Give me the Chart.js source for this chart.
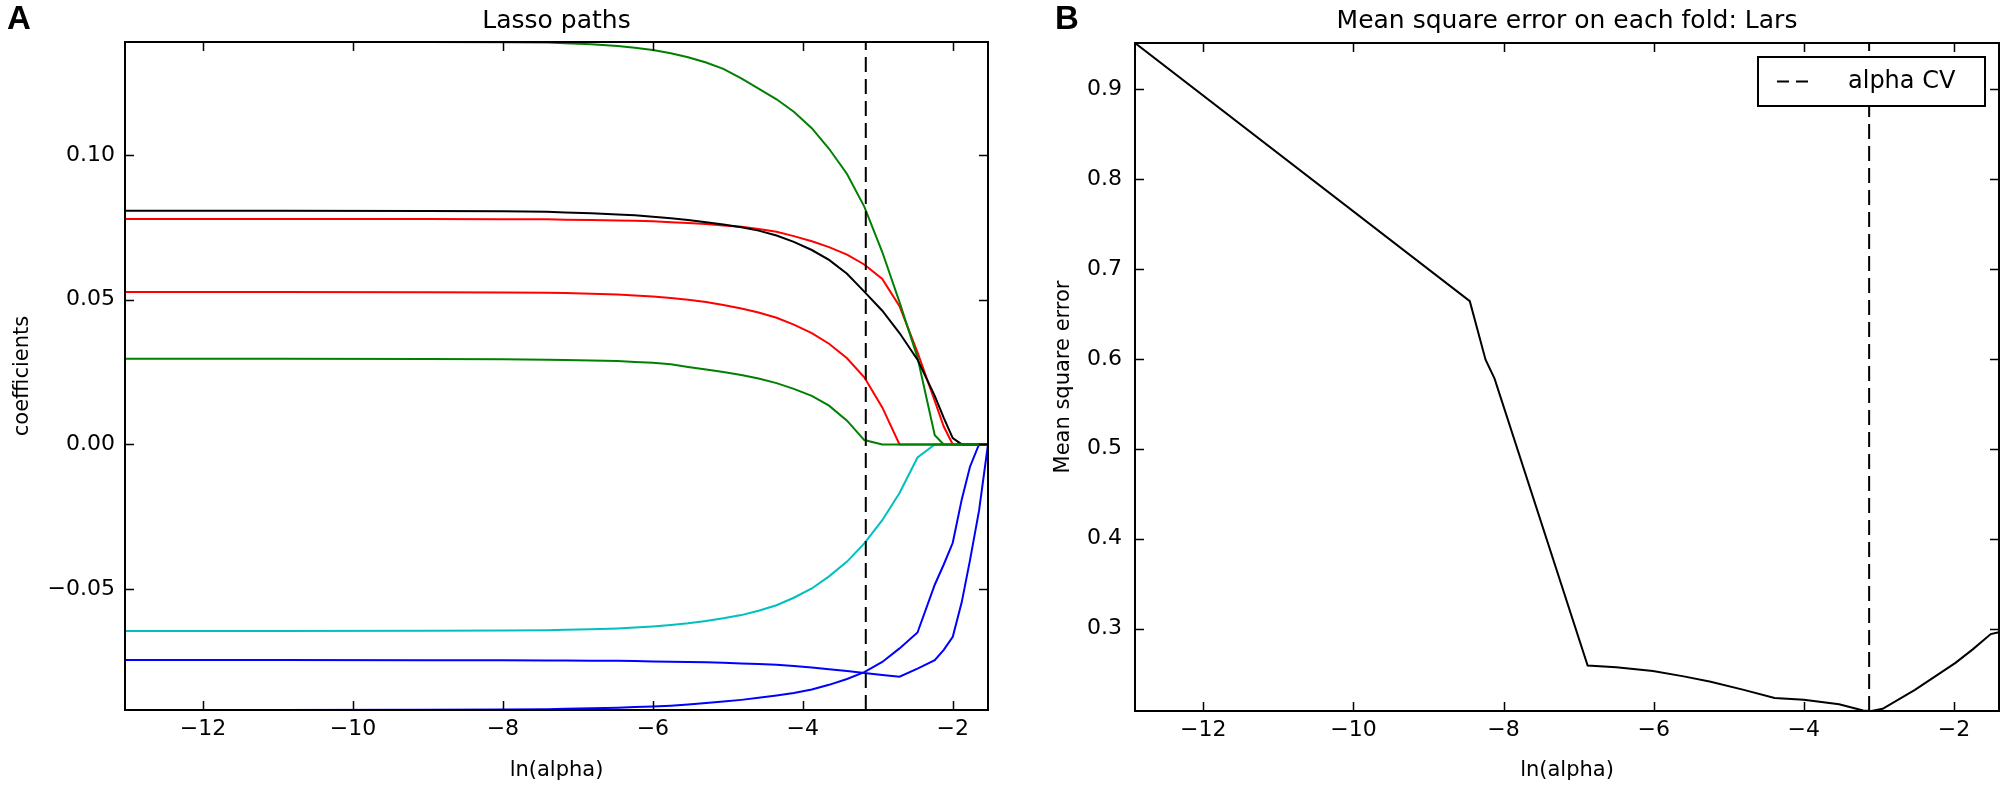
<!DOCTYPE html>
<html lang="en">
<head>
<meta charset="UTF-8">
<title>Lasso paths / Mean square error</title>
<style>
  html, body { margin: 0; padding: 0; background: #fff; }
  #wrap { position: relative; width: 2009px; height: 789px; overflow: hidden; }
  #wrap canvas { position: absolute; top: 0; }
  .tag { position: absolute; top: -1px; font: bold 33px "Liberation Sans", Arial, sans-serif; color: #000; }
</style>
</head>
<body>
<div id="wrap">
  <canvas id="lasso" width="1010" height="789" style="left:0"></canvas>
  <canvas id="mse" width="999" height="789" style="left:1010px"></canvas>
  <div class="tag" style="left:7px">A</div>
  <div class="tag" style="left:1055px">B</div>
</div>

<script src="https://cdn.jsdelivr.net/npm/chart.js"></script>
<script>
// ---- panel A: lasso paths ----
const lnAlpha = [-13.04, -11, -9, -8, -7.41, -7.17, -6.82, -6.47, -6.24, -6.0, -5.76, -5.53, -5.29, -5.06, -4.82, -4.59,
                 -4.35, -4.12, -3.88, -3.65, -3.41, -3.18, -2.94, -2.71, -2.47, -2.24, -2.12, -2.00, -1.88, -1.77, -1.65, -1.53];

const greenTop  = [0.1391, 0.1391, 0.1391, 0.1390, 0.1389, 0.1387, 0.1383, 0.1377, 0.1371, 0.1363, 0.1352, 0.1338, 0.1320, 0.1298, 0.1265, 0.1230,
                   0.1193, 0.1150, 0.1093, 0.1022, 0.0935, 0.0822, 0.0665, 0.0492, 0.0300, 0.0032, 0, 0, 0, 0, 0, 0];
const blackPath = [0.0808, 0.0808, 0.0807, 0.0806, 0.0804, 0.0802, 0.0799, 0.0795, 0.0792, 0.0787, 0.0782, 0.0776, 0.0768, 0.0760, 0.0751, 0.0739,
                   0.0722, 0.0700, 0.0672, 0.0638, 0.0590, 0.0528, 0.0462, 0.0385, 0.0293, 0.0168, 0.0092, 0.0022, 0, 0, 0, 0];
const redTop    = [0.0779, 0.0779, 0.0779, 0.0778, 0.0778, 0.0777, 0.0776, 0.0774, 0.0773, 0.0771, 0.0768, 0.0765, 0.0762, 0.0757, 0.0752, 0.0745,
                   0.0735, 0.0720, 0.0702, 0.0682, 0.0656, 0.0622, 0.0572, 0.0478, 0.0318, 0.0150, 0.0062, 0, 0, 0, 0, 0];
const redLow    = [0.0527, 0.0527, 0.0526, 0.0525, 0.0524, 0.0523, 0.0521, 0.0518, 0.0515, 0.0511, 0.0506, 0.0500, 0.0492, 0.0482, 0.0470, 0.0456,
                   0.0438, 0.0414, 0.0385, 0.0348, 0.0298, 0.0232, 0.0128, 0, 0, 0, 0, 0, 0, 0, 0, 0];
const greenLow  = [0.0296, 0.0296, 0.0295, 0.0294, 0.0293, 0.0292, 0.0290, 0.0288, 0.0285, 0.0282, 0.0277, 0.0268, 0.0259, 0.0250, 0.0240, 0.0228,
                   0.0212, 0.0192, 0.0168, 0.0134, 0.0082, 0.0015, 0, 0, 0, 0, 0, 0, 0, 0, 0, 0];
const cyanPath  = [-0.0645, -0.0645, -0.0644, -0.0643, -0.0642, -0.0641, -0.0639, -0.0636, -0.0633, -0.0629, -0.0624, -0.0618, -0.0610, -0.0601, -0.0590, -0.0575,
                   -0.0556, -0.0530, -0.0498, -0.0456, -0.0405, -0.0342, -0.0262, -0.0168, -0.0045, 0, 0, 0, 0, 0, 0, 0];
const blueTop   = [-0.0745, -0.0745, -0.0746, -0.0746, -0.0747, -0.0747, -0.0748, -0.0748, -0.0749, -0.0750, -0.0751, -0.0752, -0.0753, -0.0755, -0.0757, -0.0759,
                   -0.0762, -0.0766, -0.0771, -0.0777, -0.0783, -0.0790, -0.0797, -0.0803, -0.0775, -0.0746, -0.0710, -0.0665, -0.0545, -0.0400, -0.0230, 0];
const blueLow   = [-0.0918, -0.0918, -0.0917, -0.0916, -0.0915, -0.0914, -0.0912, -0.0910, -0.0908, -0.0906, -0.0903, -0.0899, -0.0894, -0.0889, -0.0883, -0.0876,
                   -0.0868, -0.0859, -0.0847, -0.0831, -0.0811, -0.0787, -0.0752, -0.0705, -0.0650, -0.0485, -0.0415, -0.0340, -0.0190, -0.0077, 0, 0];

const lassoAlphaCV = -3.16;
const lassoXRange = [-13.04, -1.53];
const coefRange = [-0.0918, 0.1391];
const alphaTicks = [-12, -10, -8, -6, -4, -2];
const coefTicks = [-0.05, 0, 0.05, 0.10];

// ---- panel B: mean square error ----
const mseAlpha  = [-12.91, -8.45, -8.24, -8.12, -6.88, -6.5, -6.01, -5.6, -5.24, -4.8, -4.39,
                   -4.0, -3.53, -3.21, -3.1, -2.95, -2.52, -1.98, -1.75, -1.51, -1.40];
const mseValues = [0.951, 0.664, 0.599, 0.578, 0.259, 0.257, 0.253, 0.247, 0.241, 0.232, 0.223,
                   0.221, 0.216, 0.209, 0.2085, 0.211, 0.232, 0.262, 0.277, 0.294, 0.296];
const mseAlphaCV = -3.13;
const mseXRange = [-12.91, -1.40];
const mseRange = [0.2085, 0.951];
const mseTicks = [0.3, 0.4, 0.5, 0.6, 0.7, 0.8, 0.9];

const FONT = "'DejaVu Sans', sans-serif";
const minus = s => s.replace('-', '\u2212');
const pts = (xs, ys) => xs.map((x, i) => ({ x: x, y: ys[i] }));

function pathSet(ys, color) {
  return { data: pts(lnAlpha, ys), borderColor: color, borderWidth: 2, pointRadius: 0, tension: 0, fill: false };
}
function cvSet(x, range) {
  return {
    label: 'alpha CV',
    data: [{ x: x, y: range[0] }, { x: x, y: range[1] }],
    borderColor: '#000', borderWidth: 2, borderDash: [15, 7], pointRadius: 0, fill: false
  };
}

// box around the axes with ticks pointing inward, like the old matplotlib style
const frame = {
  id: 'frame',
  afterDatasetsDraw(chart) {
    const { ctx, chartArea: a, scales: { x, y } } = chart;
    ctx.save();
    ctx.strokeStyle = '#000';
    ctx.lineWidth = 1.5;
    ctx.beginPath();
    x.ticks.forEach(t => {
      const px = Math.round(x.getPixelForValue(t.value)) + 0.5;
      ctx.moveTo(px, a.bottom); ctx.lineTo(px, a.bottom - 9);
      ctx.moveTo(px, a.top); ctx.lineTo(px, a.top + 9);
    });
    y.ticks.forEach(t => {
      const py = Math.round(y.getPixelForValue(t.value)) + 0.5;
      ctx.moveTo(a.left, py); ctx.lineTo(a.left + 9, py);
      ctx.moveTo(a.right, py); ctx.lineTo(a.right - 9, py);
    });
    ctx.stroke();
    ctx.lineWidth = 2;
    ctx.strokeRect(a.left, a.top, a.right - a.left, a.bottom - a.top);
    ctx.restore();
  }
};

// legend box in the upper right corner of panel B
const cvLegend = {
  id: 'cvLegend',
  afterDraw(chart) {
    const { ctx, chartArea: a } = chart;
    const ds = chart.data.datasets[0];
    const w = 227, h = 49;
    const left = a.right - 14 - w, top = a.top + 14;
    ctx.save();
    ctx.fillStyle = '#fff';
    ctx.fillRect(left, top, w, h);
    ctx.strokeStyle = '#000';
    ctx.lineWidth = 2;
    ctx.strokeRect(left, top, w, h);
    ctx.setLineDash([12, 7]);
    ctx.beginPath();
    ctx.moveTo(left + 19, top + 24.5);
    ctx.lineTo(left + 56, top + 24.5);
    ctx.stroke();
    ctx.setLineDash([]);
    ctx.fillStyle = '#000';
    ctx.font = '24px ' + FONT;
    ctx.textBaseline = 'middle';
    ctx.fillText(ds.label, left + 90, top + 25);
    ctx.restore();
  }
};

function axes(xRange, yRange, yTicks, yFmt, yTitle, yTitlePad, yTickPad, xHeight) {
  return {
    x: {
      type: 'linear', min: xRange[0], max: xRange[1],
      grid: { display: false, drawTicks: false }, border: { display: false },
      afterBuildTicks: s => { s.ticks = alphaTicks.map(v => ({ value: v })); },
      afterFit: s => { s.height = xHeight; },
      ticks: { color: '#000', padding: 6, font: { family: FONT, size: 22 }, callback: v => minus(String(v)) },
      title: { display: true, text: 'ln(alpha)', color: '#000', font: { family: FONT, size: 21 }, padding: { top: 0, bottom: 6 } }
    },
    y: {
      type: 'linear', min: yRange[0], max: yRange[1],
      grid: { display: false, drawTicks: false }, border: { display: false },
      afterBuildTicks: s => { s.ticks = yTicks.map(v => ({ value: v })); },
      afterFit: s => { s.width = 125; },
      ticks: { color: '#000', padding: yTickPad, font: { family: FONT, size: 22 }, callback: yFmt },
      title: { display: true, text: yTitle, color: '#000', font: { family: FONT, size: 21 }, padding: { top: yTitlePad, bottom: 0 } }
    }
  };
}

new Chart(document.getElementById('lasso'), {
  type: 'line',
  data: {
    datasets: [
      cvSet(lassoAlphaCV, coefRange),
      pathSet(greenLow, '#008000'),
      pathSet(redLow, '#ff0000'),
      pathSet(blueLow, '#0000ff'),
      pathSet(blackPath, '#000000'),
      pathSet(cyanPath, '#00bfbf'),
      pathSet(greenTop, '#008000'),
      pathSet(redTop, '#ff0000'),
      pathSet(blueTop, '#0000ff')
    ]
  },
  options: {
    responsive: false,
    animation: false,
    layout: { padding: { left: 0, right: 22, top: 0, bottom: 0 } },
    plugins: {
      legend: { display: false },
      tooltip: { enabled: false },
      title: { display: true, fullSize: false, text: 'Lasso paths', color: '#000',
               font: { family: FONT, size: 25, weight: 'normal' }, padding: { top: 6, bottom: 6 } }
    },
    scales: axes(lassoXRange, coefRange, coefTicks, v => minus(v.toFixed(2)), 'coefficients', 10, 10, 79)
  },
  plugins: [frame]
});

new Chart(document.getElementById('mse'), {
  type: 'line',
  data: {
    datasets: [
      cvSet(mseAlphaCV, mseRange),
      { data: pts(mseAlpha, mseValues), borderColor: '#000', borderWidth: 2, pointRadius: 0, tension: 0, fill: false }
    ]
  },
  options: {
    responsive: false,
    animation: false,
    layout: { padding: { left: 0, right: 10, top: 0, bottom: 0 } },
    plugins: {
      legend: { display: false },
      tooltip: { enabled: false },
      title: { display: true, fullSize: false, text: 'Mean square error on each fold: Lars', color: '#000',
               font: { family: FONT, size: 25, weight: 'normal' }, padding: { top: 6, bottom: 7 } }
    },
    scales: axes(mseXRange, mseRange, mseTicks, v => v.toFixed(1), 'Mean square error', 41, 13, 78)
  },
  plugins: [frame, cvLegend]
});
</script>
</body>
</html>
